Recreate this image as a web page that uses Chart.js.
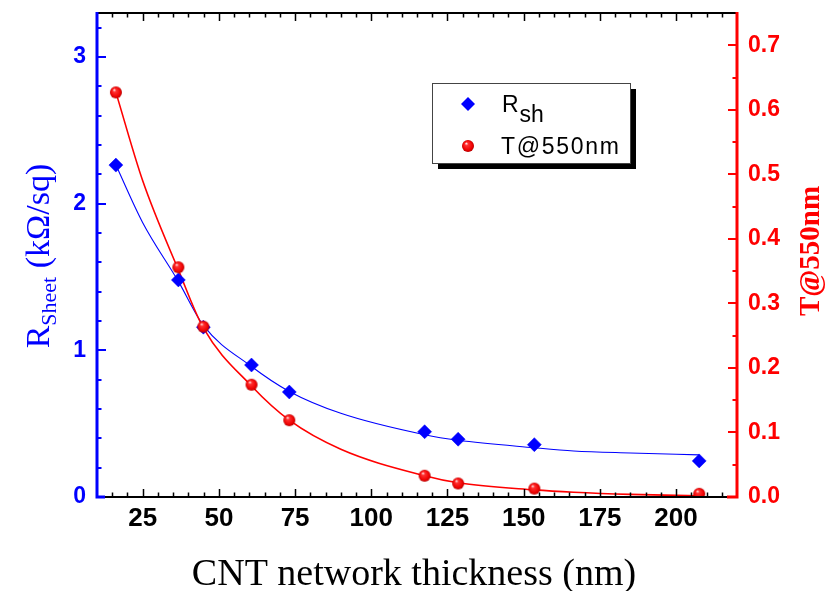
<!DOCTYPE html>
<html><head><meta charset="utf-8">
<script src="https://cdn.jsdelivr.net/npm/chart.js@4.4.0/dist/chart.umd.min.js"></script>
<style>html,body{margin:0;padding:0;background:#fff;}#wrap{width:827px;height:591px;position:relative;}</style>
</head><body><div id="wrap"><canvas id="c" width="827" height="591"></canvas></div>
<script>
// ---- data ----
const thickness = [16.2, 36.7, 44.9, 60.7, 73.1, 117.5, 128.5, 153.5, 207.6];
const rSheet = [2.263, 1.480, 1.158, 0.900, 0.716, 0.445, 0.394, 0.357, 0.246];
const transmittance = [0.627, 0.356, 0.264, 0.174, 0.119, 0.033, 0.021, 0.013, 0.005];
// fitted curves
const fitX = [16.2, 25, 36.7, 44.9, 60.7, 73.1, 90, 117.5, 128.5, 153.5, 166.4, 185, 207.6];
const rSheetFit = [2.263, 1.87, 1.47, 1.17, 0.89, 0.72, 0.571, 0.425, 0.387, 0.336, 0.314, 0.300, 0.287];
const tFit = [0.627, 0.49, 0.352, 0.262, 0.172, 0.119, 0.074, 0.033, 0.022, 0.011, 0.0073, 0.004, 0.002];
// tick labels
const xTicks = [25, 50, 75, 100, 125, 150, 175, 200];
const leftTicks = [0, 1, 2, 3];
const rightTicks = [0, 0.1, 0.2, 0.3, 0.4, 0.5, 0.6, 0.7];
const seriesNames = ['R', 'T@550nm'];

const BLUE = '#0000ff', RED = '#ff0000';

function sphere(r) {
  const c = document.createElement('canvas');
  c.width = c.height = 2 * r + 2;
  const g = c.getContext('2d');
  const cx = r + 1, cy = r + 1;
  const grad = g.createRadialGradient(cx - r * 0.3, cy - r * 0.45, r * 0.05, cx, cy, r);
  grad.addColorStop(0, '#ffe6e6');
  grad.addColorStop(0.25, '#ff3030');
  grad.addColorStop(0.8, '#ee0000');
  grad.addColorStop(1, '#b00000');
  g.fillStyle = grad;
  g.beginPath(); g.arc(cx, cy, r, 0, Math.PI * 2); g.fill();
  return c;
}
const ball = sphere(6);

const pts = (xs, ys) => xs.map((x, i) => ({x: x, y: ys[i]}));

const frame = {
  id: 'frame',
  afterDatasetsDraw(chart) {
    const ctx = chart.ctx, a = chart.chartArea;
    const sx = chart.scales.x, sy = chart.scales.y, sr = chart.scales.y1;
    ctx.save();
    ctx.strokeStyle = '#000'; ctx.lineWidth = 2;
    ctx.beginPath();
    ctx.moveTo(a.left, a.top); ctx.lineTo(a.right, a.top);
    ctx.moveTo(a.left, a.bottom); ctx.lineTo(a.right, a.bottom);
    ctx.stroke();
    ctx.lineWidth = 1.5;
    ctx.beginPath();
    for (let v = 15; v < 220; v += 5) {
      const px = Math.round(sx.getPixelForValue(v)) + 0.5;
      const len = (v % 25 === 0) ? 8 : 4.5;
      ctx.moveTo(px, a.bottom); ctx.lineTo(px, a.bottom - len);
      ctx.moveTo(px, a.top); ctx.lineTo(px, a.top + len);
    }
    ctx.stroke();
    ctx.strokeStyle = BLUE; ctx.lineWidth = 3;
    ctx.beginPath();
    ctx.moveTo(a.left, a.top - 1); ctx.lineTo(a.left, a.bottom); ctx.lineTo(a.left + 8, a.bottom);
    ctx.stroke();
    ctx.lineWidth = 2;
    ctx.beginPath();
    for (let k = 1; k <= 16; k++) {
      const v = k * 0.2;
      const py = Math.round(sy.getPixelForValue(v));
      const len = (k % 5 === 0) ? 9 : 4.5;
      ctx.moveTo(a.left, py); ctx.lineTo(a.left + len, py);
    }
    ctx.stroke();
    ctx.strokeStyle = RED; ctx.lineWidth = 3;
    ctx.beginPath();
    ctx.moveTo(a.right, a.top - 1); ctx.lineTo(a.right, a.bottom); ctx.lineTo(a.right - 10, a.bottom);
    ctx.stroke();
    ctx.lineWidth = 2;
    ctx.beginPath();
    for (let k = 1; k <= 14; k++) {
      const v = k * 0.05;
      const py = Math.round(sr.getPixelForValue(v));
      const len = (k % 2 === 0) ? 9 : 4.5;
      ctx.moveTo(a.right, py); ctx.lineTo(a.right - len, py);
    }
    ctx.stroke();
    ctx.restore();
  },
  afterDraw(chart) {
    const ctx = chart.ctx;
    ctx.save();
    ctx.fillStyle = '#000';
    ctx.font = '38px "Liberation Serif", "Times New Roman", serif';
    ctx.textAlign = 'center'; ctx.textBaseline = 'alphabetic';
    ctx.fillText('CNT network thickness (nm)', 414, 585);
    // left title (rotated)
    ctx.save();
    ctx.translate(37, 256);
    ctx.rotate(-Math.PI / 2);
    ctx.fillStyle = BLUE;
    const f1 = '34px "Liberation Serif", serif', f2 = '22px "Liberation Serif", serif';
    ctx.font = f1; const wR = ctx.measureText('R').width;
    const wP = ctx.measureText(' (k\u03A9/sq)').width;
    ctx.font = f2; const wS = ctx.measureText('Sheet').width;
    const x0 = -(wR + wS + wP) / 2;
    ctx.textAlign = 'left';
    ctx.font = f1; ctx.fillText('R', x0, 12);
    ctx.font = f2; ctx.fillText('Sheet', x0 + wR, 19);
    ctx.font = f1; ctx.fillText(' (k\u03A9/sq)', x0 + wR + wS, 12);
    ctx.restore();
    // right title
    ctx.save();
    ctx.translate(812, 251);
    ctx.rotate(-Math.PI / 2);
    ctx.fillStyle = RED;
    ctx.font = 'bold 29px "Liberation Serif", serif';
    ctx.textAlign = 'center'; ctx.textBaseline = 'middle';
    ctx.fillText('T@550nm', 0, 0);
    ctx.restore();
    // legend
    const lx = 432, ly = 83, lw = 198, lh = 80;
    ctx.fillStyle = '#000';
    ctx.fillRect(lx + 6, ly + 6, lw, lh);
    ctx.fillStyle = '#fff';
    ctx.fillRect(lx, ly, lw, lh);
    ctx.strokeStyle = '#444'; ctx.lineWidth = 1;
    ctx.strokeRect(lx + 0.5, ly + 0.5, lw, lh);
    ctx.fillStyle = BLUE;
    ctx.beginPath();
    ctx.moveTo(468, 97); ctx.lineTo(475, 104); ctx.lineTo(468, 111); ctx.lineTo(461, 104); ctx.closePath();
    ctx.fill();
    ctx.drawImage(ball, 468 - ball.width / 2, 146 - ball.height / 2);
    ctx.fillStyle = '#000';
    ctx.textAlign = 'left'; ctx.textBaseline = 'alphabetic';
    ctx.font = '23px "Liberation Sans", Arial, sans-serif';
    ctx.fillText(seriesNames[0], 502, 112);
    const wr = ctx.measureText(seriesNames[0]).width;
    ctx.fillText('sh', 502 + wr + 1, 122);
    ctx.letterSpacing = '1.7px';
    ctx.fillText(seriesNames[1], 501, 154);
    ctx.restore();
  }
};

const tickFont = {family: '"Liberation Sans", Arial, sans-serif', weight: 'bold', size: 23};
const noPad = s => { s.paddingTop = 0; s.paddingBottom = 0; };

new Chart(document.getElementById('c'), {
  type: 'scatter',
  data: {
    datasets: [
      {label: 'T@550nm', data: pts(thickness, transmittance), yAxisID: 'y1',
       pointStyle: ball, pointRadius: 6, showLine: false},
      {label: 'Rsh', data: pts(thickness, rSheet), yAxisID: 'y',
       pointStyle: 'rectRot', pointRadius: 7, backgroundColor: BLUE, borderColor: BLUE, borderWidth: 0.5, showLine: false},
      {label: 'T fit', data: pts(fitX, tFit), yAxisID: 'y1', showLine: true, pointRadius: 0,
       borderColor: RED, borderWidth: 1.6, cubicInterpolationMode: 'monotone'},
      {label: 'R fit', data: pts(fitX, rSheetFit), yAxisID: 'y', showLine: true, pointRadius: 0,
       borderColor: BLUE, borderWidth: 1.1, cubicInterpolationMode: 'monotone'}
    ]
  },
  options: {
    responsive: false, animation: false, devicePixelRatio: 1,
    layout: {padding: {top: 13, left: 0, right: 0, bottom: 0}},
    plugins: {legend: {display: false}, tooltip: {enabled: false}},
    scales: {
      x: {
        type: 'linear', position: 'bottom', min: 10, max: 220,
        afterBuildTicks: s => { s.ticks = xTicks.map(v => ({value: v})); },
        afterFit: s => { s.height = 94; s.paddingLeft = 0; s.paddingRight = 0; },
        grid: {display: false, drawTicks: false}, border: {display: false},
        ticks: {font: {family: tickFont.family, weight: 'bold', size: 26}, color: '#000', padding: 6,
                maxRotation: 0, autoSkip: false}
      },
      y: {
        type: 'linear', position: 'left', min: 0, max: 3.3,
        afterBuildTicks: s => { s.ticks = leftTicks.map(v => ({value: v})); },
        afterFit: s => { s.width = 97; noPad(s); },
        grid: {display: false, drawTicks: false}, border: {display: false},
        ticks: {font: tickFont, color: BLUE, padding: 11, autoSkip: false}
      },
      y1: {
        type: 'linear', position: 'right', min: 0, max: 0.75,
        afterBuildTicks: s => { s.ticks = rightTicks.map(v => ({value: v})); },
        afterFit: s => { s.width = 90; noPad(s); },
        grid: {display: false, drawTicks: false}, border: {display: false},
        ticks: {font: tickFont, color: RED, padding: 11, autoSkip: false,
                callback: v => Number(v).toFixed(1)}
      }
    }
  },
  plugins: [frame]
});
</script>
</body></html>
